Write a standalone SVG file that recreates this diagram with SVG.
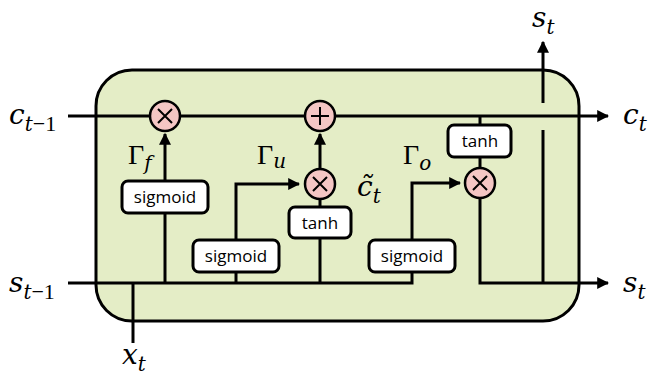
<svg xmlns="http://www.w3.org/2000/svg" width="649" height="379" viewBox="0 0 649 379">
<defs>
<marker id="ah" viewBox="0 0 10 10" refX="9" refY="5" markerWidth="4" markerHeight="4" markerUnits="strokeWidth" orient="auto">
<path d="M0,0 L10,5 L0,10 z" fill="#000"/>
</marker>
<style>
.ln{stroke:#000;stroke-width:3;fill:none}
.box{fill:#fff;stroke:#000;stroke-width:3}
.op{fill:#f4c6c4;stroke:#000;stroke-width:2.5}
.sym{stroke:#000;stroke-width:2;fill:none}
.bt{font-family:"Open Sans","Liberation Sans",sans-serif;font-size:17px;text-anchor:middle;fill:#000}
.m{font-family:"DejaVu Serif","Liberation Serif",serif;font-style:italic;fill:#000}
.g{font-family:"Liberation Serif","DejaVu Serif",serif;fill:#000}
</style>
</defs>
<rect id="cell" x="96" y="70" width="483" height="251" rx="36" ry="36" fill="#e4edc6" stroke="#000" stroke-width="3"/>
<g id="connectors">
<path class="ln" d="M68,116 H150"/>
<path class="ln" d="M180,116 H305"/>
<path class="ln" d="M335,116 H608" marker-end="url(#ah)"/>
<path class="ln" d="M68,283 H412 V272"/>
<path class="ln" d="M133,283 V343"/>
<path class="ln" d="M165,283 V213"/>
<path class="ln" d="M165,181 V134" marker-end="url(#ah)"/>
<path class="ln" d="M236,283 V272"/>
<path class="ln" d="M236,240 V184 H299" marker-end="url(#ah)"/>
<path class="ln" d="M320,283 V238"/>
<path class="ln" d="M320,207 V199"/>
<path class="ln" d="M320,169 V134" marker-end="url(#ah)"/>
<path class="ln" d="M412,240 V183 H460" marker-end="url(#ah)"/>
<path class="ln" d="M480,116 V125"/>
<path class="ln" d="M480,157 V168"/>
<path class="ln" d="M480,198 V283 H608" marker-end="url(#ah)"/>
<path class="ln" d="M543,283 V130"/>
<path class="ln" d="M543,103 V42" marker-end="url(#ah)"/>
</g>
<g id="forget-mult"><circle class="op" cx="165" cy="116" r="15"/><path class="sym" d="M158,109 L172,123 M172,109 L158,123"/></g>
<g id="add"><circle class="op" cx="320" cy="116" r="15"/><path class="sym" d="M320,107 V125 M311,116 H329"/></g>
<g id="update-mult"><circle class="op" cx="320" cy="184" r="15"/><path class="sym" d="M313,177 L327,191 M327,177 L313,191"/></g>
<g id="output-mult"><circle class="op" cx="480" cy="183" r="15"/><path class="sym" d="M473,176 L487,190 M487,176 L473,190"/></g>
<g id="sigmoid-f"><rect class="box" x="122" y="181" width="86" height="32" rx="6"/><text class="bt" x="165" y="203">sigmoid</text></g>
<g id="sigmoid-u"><rect class="box" x="193" y="240" width="86" height="32" rx="6"/><text class="bt" x="236" y="262">sigmoid</text></g>
<g id="tanh-c"><rect class="box" x="289" y="207" width="62" height="31" rx="6"/><text class="bt" x="320" y="229">tanh</text></g>
<g id="sigmoid-o"><rect class="box" x="369" y="240" width="86" height="32" rx="6"/><text class="bt" x="412" y="262">sigmoid</text></g>
<g id="tanh-o"><rect class="box" x="448" y="125" width="63" height="32" rx="6"/><text class="bt" x="480" y="147">tanh</text></g>
<g id="labels">
<text class="m" x="9" y="124" font-size="28">c<tspan font-size="20" dy="7">t</tspan><tspan class="g" font-style="normal" font-size="22">−1</tspan></text>
<text class="m" x="9" y="292" font-size="28">s<tspan font-size="20" dy="7">t</tspan><tspan class="g" font-style="normal" font-size="22">−1</tspan></text>
<text class="m" x="623" y="124" font-size="28">c<tspan font-size="20" dy="7">t</tspan></text>
<text class="m" x="623" y="292" font-size="28">s<tspan font-size="20" dy="7">t</tspan></text>
<text class="m" x="532" y="27" font-size="28">s<tspan font-size="20" dy="7">t</tspan></text>
<text class="m" x="122" y="364" font-size="28">x<tspan font-size="20" dy="7">t</tspan></text>
<text class="g" x="128" y="164" font-size="28">Γ<tspan class="m" font-size="20" dy="6">f</tspan></text>
<text class="g" x="257" y="164" font-size="28">Γ<tspan class="m" font-size="20" dy="4">u</tspan></text>
<text class="g" x="403" y="164" font-size="28">Γ<tspan class="m" font-size="20" dy="6">o</tspan></text>
<text class="m" x="357" y="196" font-size="28">c̃<tspan font-size="20" dy="7">t</tspan></text>
</g>
</svg>
